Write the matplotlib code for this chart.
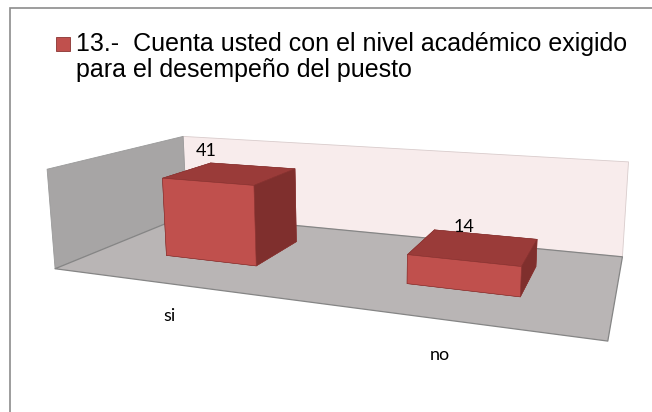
import matplotlib.pyplot as plt
from matplotlib.patches import Rectangle
from mpl_toolkits.mplot3d.art3d import Poly3DCollection

categories = ["si", "no"]
values = [41, 14]
legend_label = "13.-  Cuenta usted con el nivel académico exigido\npara el desempeño del puesto"
z_max = 50

# colores estilo Excel 2007
front_col = "#c0504d"
top_col = "#9a3b39"
side_col = "#7f2f2d"
floor_col = "#b9b5b5"
left_wall_col = "#a7a5a5"
back_wall_col = "#f8ecec"

fig = plt.figure(figsize=(6.52, 4.12), dpi=100)

# marco del area del grafico (solo se ven borde izquierdo y superior)
fig.patches.append(Rectangle((10 / 652, -0.1), 1.2, 1.1 - 8 / 412,
                             transform=fig.transFigure, fill=False,
                             edgecolor="#8c8c8c", linewidth=1.2))

# camara tipo Excel: rotacion X 20, Y ~11, perspectiva fuerte.
# mplot3d mira al centro de los limites, asi que los limites se
# centran en el punto al que apunta la camara (no en el centro de la caja)
ax = fig.add_axes([0.243, 0.0617, 412 / 652, 1.0], projection="3d",
                  computed_zorder=False)
ax.set_proj_type("persp", focal_length=0.3547)
ax.view_init(elev=11.1, azim=-70, roll=0)
ax.set_box_aspect((5.665, 2.649, 1.768), zoom=1.531)

x_lo, x_hi = -0.5, len(categories) - 0.5

# suelo y paredes
floor = [(x_lo, 0, 0), (x_hi, 0, 0), (x_hi, 1, 0), (x_lo, 1, 0)]
left_wall = [(x_lo, 0, 0), (x_lo, 1, 0), (x_lo, 1, z_max), (x_lo, 0, z_max)]
back_wall = [(x_lo, 1, 0), (x_hi, 1, 0), (x_hi, 1, z_max), (x_lo, 1, z_max)]
walls = [
    (back_wall, back_wall_col, "#d9cccc", 0.6),
    (left_wall, left_wall_col, "#9a9a9a", 0.6),
    (floor, floor_col, "#858585", 0.9),
]
for verts, fc, ec, lw in walls:
    pc = Poly3DCollection([verts], facecolor=fc, edgecolor=ec,
                          linewidth=lw, zorder=1)
    ax.add_collection3d(pc)
    pc.set_clip_on(False)

bar_w = 0.4
bar_y0, bar_d = 0.32, 0.4
for i, v in enumerate(values):
    bars = ax.bar3d(i - bar_w / 2, bar_y0, 0, bar_w, bar_d, v,
                    color=[side_col, top_col, front_col,
                           side_col, side_col, side_col],
                    shade=False, edgecolor="#8a3432", linewidth=0.4,
                    zorder=2)
    bars.set_clip_on(False)
    # etiqueta de valor centrada sobre la cara frontal
    ax.text(i, bar_y0, v + 15.5, str(v), fontsize=13, ha="center",
            va="center", family="Lato", zorder=3, clip_on=False)
    ax.text(i, 0, -16, categories[i], fontsize=13, ha="center",
            va="center", family="Lato", zorder=3, clip_on=False)

ax.set_xlim(-0.5, 1.66)
ax.set_ylim(0, 1.134)
ax.set_zlim(0, 88.4)
ax.set_axis_off()

# leyenda dibujada a mano: cuadro de color + texto en dos lineas
fig.patches.append(Rectangle((56 / 652, 1 - 51 / 412), 14 / 652, 14 / 412,
                             transform=fig.transFigure, facecolor=front_col,
                             edgecolor="#8a3432", linewidth=0.6))
# va="baseline" alinea la ultima linea del texto
fig.text(76 / 652, 1 - 77 / 412, legend_label, ha="left", va="baseline",
         family="Liberation Sans", fontsize=18, linespacing=1.1)

fig.savefig("out.png", dpi=100)
